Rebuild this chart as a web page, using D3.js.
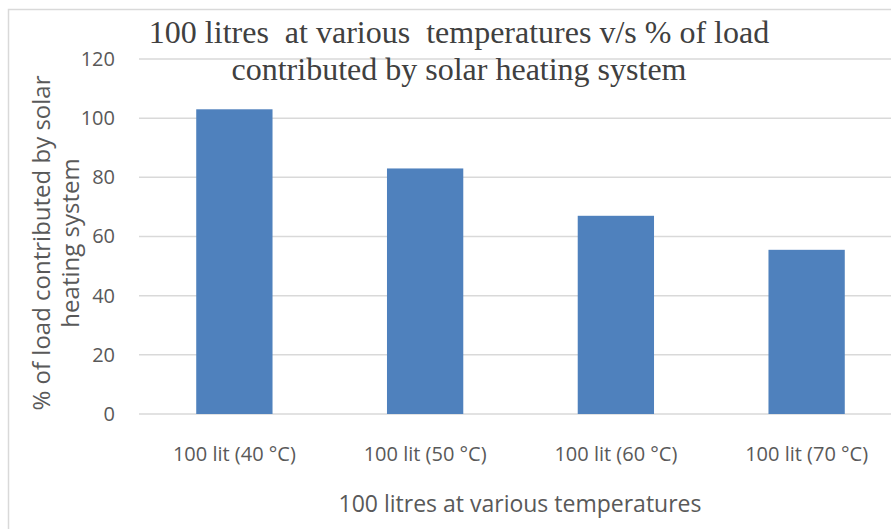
<!DOCTYPE html>
<html><head><meta charset="utf-8">
<script src="https://cdn.jsdelivr.net/npm/d3@7"></script>
<style>body{margin:0;background:#fff;} svg{display:block;}</style>
</head><body>
<svg id="chart" width="891" height="529"></svg>
<script>
const categories = ["100 lit (40 °C)", "100 lit (50 °C)", "100 lit (60 °C)", "100 lit (70 °C)"];
const values = [103, 83, 67, 55.5];
const yTicks = [0, 20, 40, 60, 80, 100, 120];
const titleLines = ["100 litres  at various  temperatures v/s % of load", "contributed by solar heating system"];
const xTitle = "100 litres at various temperatures";
const yTitleLines = ["% of load contributed by solar", "heating system"];

const svg = d3.select("#chart");
const textColor = "#595959";
const sansFont = "'Open Sans', Lato, sans-serif";

// outer chart border (cropped on right/bottom)
svg.append("rect").attr("x", 8.5).attr("y", 9.5).attr("width", 1000).attr("height", 1000)
  .attr("fill", "#fff").attr("stroke", "#d9d9d9").attr("stroke-width", 1.5);

const plot = {left: 139, right: 902, top: 59, bottom: 414};

const x = d3.scaleBand().domain(categories).range([plot.left, plot.right])
  .paddingInner(0.6).paddingOuter(0.3);
const y = d3.scaleLinear().domain([0, 120]).range([plot.bottom, plot.top]);

// gridlines
svg.append("g").selectAll("line").data(yTicks).join("line")
  .attr("x1", plot.left).attr("x2", plot.right)
  .attr("y1", d => y(d)).attr("y2", d => y(d))
  .attr("stroke", "#d9d9d9").attr("stroke-width", 1.5);

// bars
svg.append("g").selectAll("rect").data(values).join("rect")
  .attr("x", (d, i) => x(categories[i]))
  .attr("width", x.bandwidth())
  .attr("y", d => y(d))
  .attr("height", d => y(0) - y(d))
  .attr("fill", "#4f81bd");

// y axis
const yAxis = d3.axisLeft(y).tickValues(yTicks).tickSize(0).tickPadding(24);
const yg = svg.append("g").attr("transform", `translate(${plot.left},0)`).call(yAxis);
yg.select(".domain").remove();
yg.selectAll("text").attr("fill", textColor).attr("font-family", sansFont).attr("font-size", 20);

// x axis
const xAxis = d3.axisBottom(x).tickSize(0).tickPadding(33);
const xg = svg.append("g").attr("transform", `translate(0,${plot.bottom})`).call(xAxis);
xg.select(".domain").remove();
xg.selectAll("text").attr("fill", textColor).attr("font-family", sansFont).attr("font-size", 20);

// x title
svg.append("text").attr("x", 520).attr("y", 512).attr("text-anchor", "middle")
  .attr("fill", textColor).attr("font-family", sansFont).attr("font-size", 23).text(xTitle);

// y title
const yt = svg.append("text").attr("transform", "translate(50,243) rotate(-90)")
  .attr("text-anchor", "middle").attr("fill", textColor).attr("font-family", sansFont).attr("font-size", 24);
yTitleLines.forEach((t, i) => yt.append("tspan").attr("x", 0).attr("dy", i === 0 ? 0 : 29).text(t));

// chart title
const tt = svg.append("text").attr("text-anchor", "middle")
  .attr("fill", "#404040").attr("font-family", "'Liberation Serif', 'Times New Roman', serif")
  .attr("font-size", 32).style("white-space", "pre");
tt.append("tspan").attr("x", 459).attr("y", 43).text(titleLines[0]);
tt.append("tspan").attr("x", 459).attr("y", 80).text(titleLines[1]);
</script>
</body></html>
